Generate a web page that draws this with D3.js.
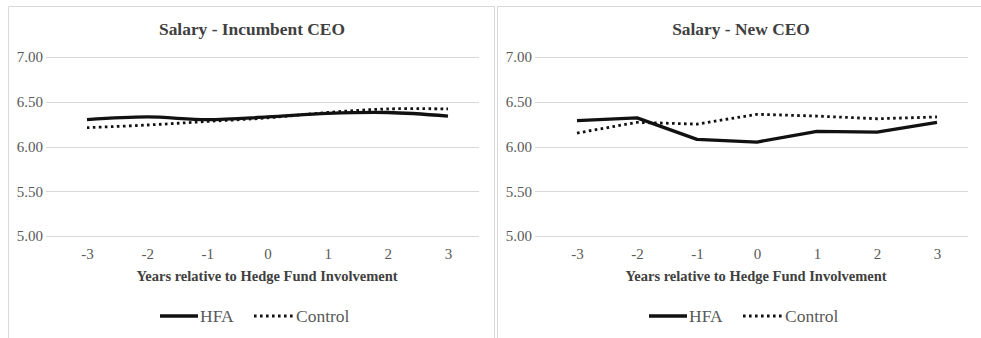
<!DOCTYPE html>
<html>
<head>
<meta charset="utf-8">
<script src="https://cdn.jsdelivr.net/npm/d3@7"></script>
<style>
  html, body { margin: 0; padding: 0; background: #fff; }
  svg { display: block; }
  svg text { font-family: 'Liberation Serif'; }
</style>
</head>
<body>
<svg id="chart" width="981" height="338" font-family="Liberation Serif"></svg>
<script>
// Event-time years relative to hedge fund involvement
const years = ["-3", "-2", "-1", "0", "1", "2", "3"];
const yTicks = [5.00, 5.50, 6.00, 6.50, 7.00];

// Log salary, incumbent CEO
const incumbentHFA     = [6.30, 6.33, 6.30, 6.33, 6.37, 6.38, 6.34];
const incumbentControl = [6.21, 6.24, 6.28, 6.32, 6.38, 6.42, 6.42];

// Log salary, new CEO
const newHFA     = [6.29, 6.32, 6.08, 6.05, 6.17, 6.16, 6.27];
const newControl = [6.15, 6.27, 6.25, 6.36, 6.34, 6.31, 6.33];

const panels = [
  { title: "Salary - Incumbent CEO", hfa: incumbentHFA, control: incumbentControl,
    x0: 8, x1: 495, gridL: 46, gridR: 479, firstX: 87, lastX: 448, smooth: true },
  { title: "Salary - New CEO", hfa: newHFA, control: newControl,
    x0: 497, x1: 990, gridL: 535, gridR: 968, firstX: 577, lastX: 937, smooth: false }
];

const FONT = "Liberation Serif";
const svg = d3.select("#chart");
const gridColor = "#d9d9d9";
const textColor = "#595959";
const titleColor = "#404040";

const y = d3.scaleLinear().domain([5, 7]).range([236, 57]);

function serif(sel) {
  sel.attr("font-family", FONT).style("font-family", "'" + FONT + "'");
}

panels.forEach(p => {
  const g = svg.append("g").attr("font-family", FONT);

  // chart area frame (open at the bottom)
  g.append("path")
    .attr("d", `M${p.x0 + 0.5},338 V${6.5} H${p.x1 - 0.5} V338`)
    .attr("fill", "none")
    .attr("stroke", gridColor)
    .attr("stroke-width", 1);

  const x = d3.scalePoint().domain(years).range([p.firstX, p.lastX]);

  // horizontal gridlines
  g.selectAll("line.grid").data(yTicks).join("line")
    .attr("class", "grid")
    .attr("x1", p.gridL).attr("x2", p.gridR)
    .attr("y1", d => Math.round(y(d)) + 0.5).attr("y2", d => Math.round(y(d)) + 0.5)
    .attr("stroke", gridColor).attr("stroke-width", 1.2);

  // y axis labels
  const yAxis = d3.axisLeft(y).tickValues(yTicks).tickFormat(d3.format(".2f"))
    .tickSize(0).tickPadding(0);
  g.append("g")
    .attr("transform", `translate(${p.gridL - 3},0)`)
    .call(yAxis)
    .call(a => a.attr("font-family", FONT).attr("font-size", 15))
    .call(a => a.select(".domain").remove())
    .call(a => a.selectAll("text").call(serif)
      .attr("font-size", 15).attr("fill", textColor));

  // x axis labels
  const xAxis = d3.axisBottom(x).tickSize(0).tickPadding(0);
  g.append("g")
    .attr("transform", `translate(0,${248})`)
    .call(xAxis)
    .call(a => a.attr("font-family", FONT).attr("font-size", 15))
    .call(a => a.select(".domain").remove())
    .call(a => a.selectAll("text").call(serif)
      .attr("font-size", 15).attr("fill", textColor));

  // title
  g.append("text")
    .attr("x", p.x0 + 244)
    .attr("y", 35)
    .attr("text-anchor", "middle")
    .call(serif)
    .attr("font-size", 17.4).attr("font-weight", "bold")
    .attr("fill", titleColor)
    .text(p.title);

  // x axis title
  g.append("text")
    .attr("x", p.x0 + 259)
    .attr("y", 281)
    .attr("text-anchor", "middle")
    .call(serif)
    .attr("font-size", 14.5).attr("font-weight", "bold")
    .attr("fill", titleColor)
    .text("Years relative to Hedge Fund Involvement");

  const line = d3.line()
    .x((d, i) => x(years[i]))
    .y(d => y(d))
    .curve(p.smooth ? d3.curveCatmullRom.alpha(0.5) : d3.curveLinear);

  g.append("path")
    .datum(p.control)
    .attr("d", line)
    .attr("fill", "none")
    .attr("stroke", "#111")
    .attr("stroke-width", 2.8)
    .attr("stroke-dasharray", "2.6 3.4");

  g.append("path")
    .datum(p.hfa)
    .attr("d", line)
    .attr("fill", "none")
    .attr("stroke", "#111")
    .attr("stroke-width", 3.3)
    .attr("stroke-linejoin", "round");

  // legend
  const lx = p.x0 + 152;
  const ly = 316;
  g.append("line")
    .attr("x1", lx).attr("x2", lx + 38).attr("y1", ly).attr("y2", ly)
    .attr("stroke", "#111").attr("stroke-width", 3.3);
  g.append("text")
    .attr("x", lx + 40).attr("y", ly + 6)
    .call(serif)
    .attr("font-size", 17.5).attr("fill", textColor)
    .text("HFA");
  g.append("line")
    .attr("x1", lx + 94).attr("x2", lx + 134).attr("y1", ly).attr("y2", ly)
    .attr("stroke", "#111").attr("stroke-width", 2.8)
    .attr("stroke-dasharray", "2.6 3.4");
  g.append("text")
    .attr("x", lx + 136).attr("y", ly + 6)
    .call(serif)
    .attr("font-size", 17.5).attr("fill", textColor)
    .text("Control");
});
</script>
</body>
</html>
